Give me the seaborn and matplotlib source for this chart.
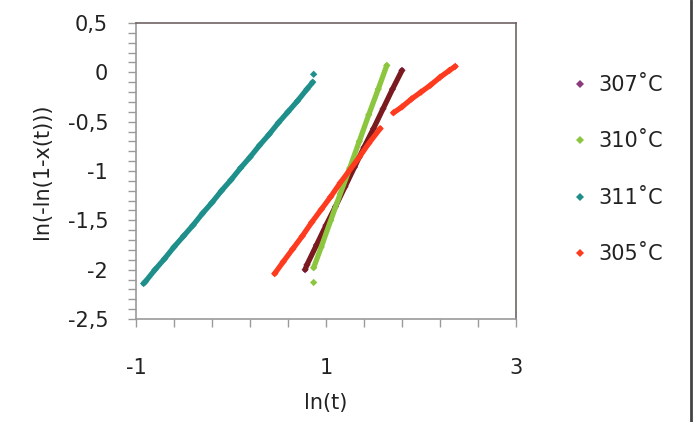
import matplotlib
matplotlib.use("Agg")
import matplotlib.pyplot as plt
from matplotlib.lines import Line2D
from matplotlib.ticker import MultipleLocator, FuncFormatter
import pandas as pd
import seaborn as sns

# values
labels = ["307˚C", "310˚C", "311˚C", "305˚C"]

x_307 = [0.78, 0.80, 0.90, 1.00, 1.10, 1.20, 1.30, 1.40, 1.50, 1.60, 1.70, 1.80]
y_307 = [-2.00, -1.95, -1.75, -1.55, -1.36, -1.16, -0.96, -0.76, -0.57, -0.37, -0.17, 0.02]
seg_307 = [0, 0, 0, 0, 0, 0, 0, 0, 0, 0, 0, 0]

x_310 = [0.87, 0.87, 0.95, 1.05, 1.15, 1.25, 1.35, 1.45, 1.55, 1.64]
y_310 = [-2.13, -1.98, -1.77, -1.50, -1.23, -0.97, -0.70, -0.43, -0.17, 0.07]
seg_310 = [1, 0, 0, 0, 0, 0, 0, 0, 0, 0]

x_311 = [-0.92, -0.90, -0.80, -0.70, -0.60, -0.50, -0.40, -0.30, -0.20, -0.10, 0.00,
         0.10, 0.20, 0.30, 0.40, 0.50, 0.60, 0.70, 0.80, 0.86, 0.87]
y_311 = [-2.14, -2.12, -2.00, -1.89, -1.77, -1.66, -1.55, -1.43, -1.32, -1.20, -1.09,
         -0.97, -0.86, -0.74, -0.63, -0.51, -0.40, -0.29, -0.17, -0.10, -0.02]
seg_311 = [0] * 20 + [1]

x_305 = [0.46, 0.55, 0.65, 0.75, 0.85, 0.95, 1.05, 1.15, 1.25, 1.35, 1.45, 1.57,
         1.71, 1.80, 1.90, 2.00, 2.10, 2.20, 2.30, 2.36]
y_305 = [-2.04, -1.92, -1.79, -1.66, -1.52, -1.39, -1.26, -1.12, -0.99, -0.86, -0.72, -0.57,
         -0.41, -0.35, -0.27, -0.20, -0.13, -0.05, 0.02, 0.06]
seg_305 = [0] * 12 + [1] * 8

line_colors = {"307˚C": "#7a1a1e", "310˚C": "#8cc63f", "311˚C": "#1f8f8c", "305˚C": "#ff3b1f"}
marker_colors = {"307˚C": "#8b3a7e", "310˚C": "#8cc63f", "311˚C": "#1f8f8c", "305˚C": "#ff3b1f"}

frames = []
for lab, xs, ys, sg in zip(labels, [x_307, x_310, x_311, x_305],
                           [y_307, y_310, y_311, y_305],
                           [seg_307, seg_310, seg_311, seg_305]):
    frames.append(pd.DataFrame({"x": xs, "y": ys, "temp": lab,
                                "seg": [f"{lab}-{s}" for s in sg]}))
df = pd.concat(frames, ignore_index=True)

sns.set_style("white")
plt.rcParams["font.family"] = ["DejaVu Sans"]
fs = 15

fig = plt.figure(figsize=(6.93, 4.22), dpi=100)
ax = fig.add_axes([136 / 693, 1 - 319 / 422, 380 / 693, 296 / 422])

sns.scatterplot(data=df, x="x", y="y", hue="temp", palette=marker_colors,
                marker="D", s=14, linewidth=0, legend=False, ax=ax, zorder=2)
sns.lineplot(data=df, x="x", y="y", hue="temp", units="seg", estimator=None,
             sort=False, palette=line_colors, linewidth=3.8, legend=False,
             solid_capstyle="round", ax=ax, zorder=3)

ax.set_xlim(-1, 3)
ax.set_ylim(-2.5, 0.5)
ax.xaxis.set_major_locator(MultipleLocator(2, offset=1))
ax.xaxis.set_minor_locator(MultipleLocator(0.4, offset=0.2))
ax.yaxis.set_major_locator(MultipleLocator(0.5))
ax.yaxis.set_minor_locator(MultipleLocator(0.1))
fmt = FuncFormatter(lambda v, p: f"{v:g}".replace(".", ","))
ax.xaxis.set_major_formatter(fmt)
ax.yaxis.set_major_formatter(fmt)

ax.tick_params(axis="both", which="both", direction="out", length=6, width=1,
               color="#9a9a9a", labelsize=fs, labelcolor="#222222")
ax.tick_params(axis="y", which="both", left=True, pad=14)
ax.tick_params(axis="x", which="both", bottom=True, pad=22)

for side in ["left", "bottom"]:
    ax.spines[side].set_color("#9a9a9a")
    ax.spines[side].set_linewidth(1.2)
for side in ["top", "right"]:
    ax.spines[side].set_color("#6e6462")
    ax.spines[side].set_linewidth(1.2)

ax.set_xlabel("ln(t)", fontsize=fs, color="#222222")
ax.set_ylabel("ln(-ln(1-x(t)))", fontsize=fs, color="#222222")
ax.xaxis.set_label_coords(0.5, -0.25)
ax.yaxis.set_label_coords(-0.222, 0.5)

handles = [Line2D([0], [0], marker="D", color="none", markerfacecolor=marker_colors[l],
                  markeredgewidth=0, markersize=3.8) for l in labels]
fig.legend(handles, labels, loc="upper left", bbox_to_anchor=(574 / 693, 1 - 75 / 422),
           frameon=False, fontsize=fs, handlelength=0.6, handletextpad=0.55,
           labelspacing=1.75, borderpad=0, borderaxespad=0, labelcolor="#222222")

fig.add_artist(Line2D([691 / 693, 691 / 693], [0, 1], color="#444444", linewidth=2))

fig.savefig("out.png", dpi=100)
